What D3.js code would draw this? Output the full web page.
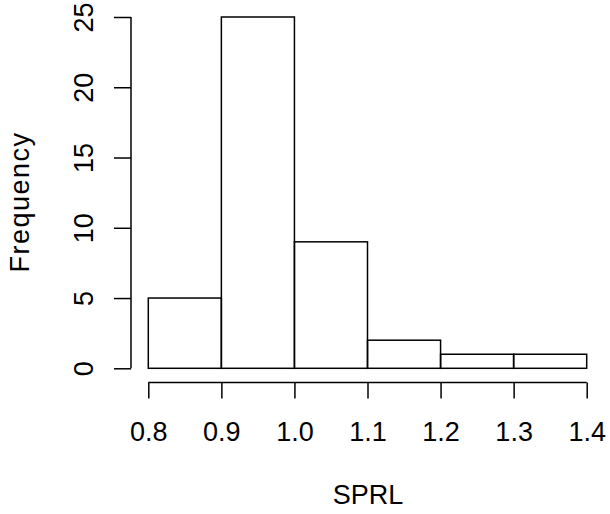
<!DOCTYPE html>
<html>
<head>
<meta charset="utf-8">
<script src="https://cdn.jsdelivr.net/npm/d3@7"></script>
<style>
    body { margin: 0; background: #fff; }
    text { font-family: "Liberation Sans", Arial, sans-serif; font-size: 27px; fill: #000; }
</style>
</head>
<body>
<div id="chart"></div>
<script>
// histogram bins of SPRL
const binStarts = [0.8, 0.9, 1.0, 1.1, 1.2, 1.3];
const binWidth = 0.1;
const counts = [5, 25, 9, 2, 1, 1];
const xTicks = [0.8, 0.9, 1.0, 1.1, 1.2, 1.3, 1.4];
const yTicks = [0, 5, 10, 15, 20, 25];

const width = 610, height = 514;

const svg = d3.select("#chart")
    .append("svg")
    .attr("width", width)
    .attr("height", height);

// scales (R style: axes sit off the data range)
const x = d3.scaleLinear().domain([0.8, 1.4]).range([148.3, 586.7]);
const y = d3.scaleLinear().domain([0, 25]).range([368.3, 17]);

// bars
svg.append("g")
    .selectAll("rect")
    .data(binStarts)
    .join("rect")
    .attr("x", d => x(d))
    .attr("width", d => x(d + binWidth) - x(d))
    .attr("y", (d, i) => y(counts[i]))
    .attr("height", (d, i) => y(0) - y(counts[i]))
    .attr("fill", "none")
    .attr("stroke", "black")
    .attr("stroke-width", 1.5);

// x axis
const xAxis = d3.axisBottom(x)
    .tickValues(xTicks)
    .tickFormat(d3.format(".1f"))
    .tickSize(16)
    .tickPadding(23);
const gx = svg.append("g")
    .attr("transform", "translate(0,382.4)")
    .call(xAxis);
gx.select(".domain").attr("d", `M${x(0.8)},0H${x(1.4)}`);

// y axis
const yAxis = d3.axisLeft(y)
    .tickValues(yTicks)
    .tickSize(17)
    .tickPadding(0);
const gy = svg.append("g")
    .attr("transform", "translate(131,0)")
    .call(yAxis);
gy.select(".domain").attr("d", `M0,${y(0)}V${y(25)}`);
gy.selectAll(".tick text")
    .attr("x", null).attr("dy", null)
    .attr("transform", "translate(-38,0) rotate(-90)")
    .attr("text-anchor", "middle");

svg.selectAll(".domain, .tick line")
    .attr("stroke", "black")
    .attr("stroke-width", 1.5);
svg.selectAll(".tick text")
    .attr("font-family", null)
    .attr("font-size", null);

// axis titles
svg.append("text")
    .attr("text-anchor", "middle")
    .attr("x", 368)
    .attr("y", 504)
    .text("SPRL");

svg.append("text")
    .attr("text-anchor", "middle")
    .attr("letter-spacing", "1.5px")
    .attr("transform", "translate(28.5,202) rotate(-90)")
    .text("Frequency");
</script>
</body>
</html>
